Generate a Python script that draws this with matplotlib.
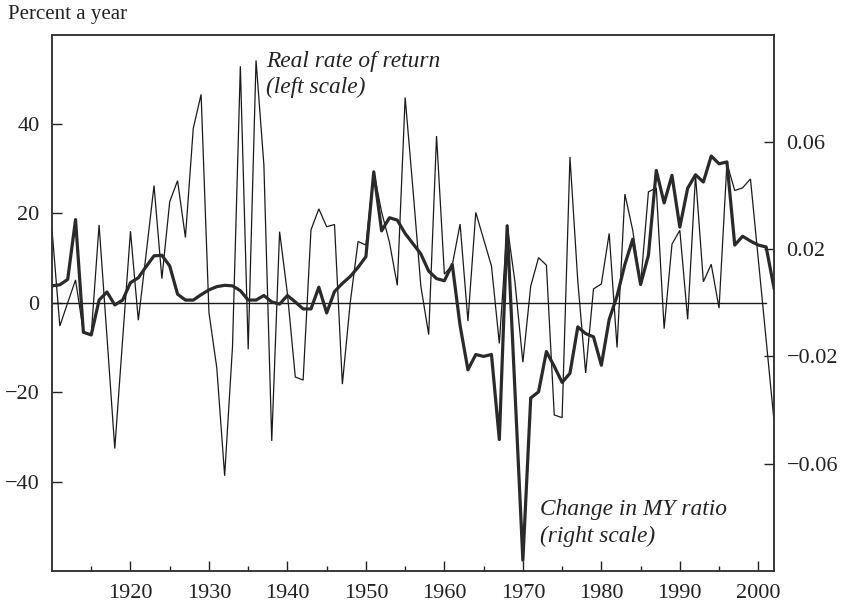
import matplotlib
matplotlib.use('Agg')
import matplotlib.pyplot as plt
from matplotlib.ticker import FixedLocator, FuncFormatter

years = list(range(1910, 2003))

# Real rate of return, percent a year (left scale)
real_return = [
    16.4, -5.2, 0.0, 5.1, -6.5, -7.1, 17.4, -7.5, -32.6, -8.2,
    16.0, -3.9, 11.0, 26.2, 5.4, 22.6, 27.3, 14.6, 39.0, 46.6,
    -2.2, -14.6, -38.7, -9.8, 52.9, -10.4, 54.2, 30.8, -30.9, 15.9,
    2.0, -16.6, -17.3, 16.3, 21.0, 17.0, 17.5, -18.2, 0.0, 13.7,
    12.9, 29.3, 20.3, 13.5, 3.9, 45.9, 25.3, 3.7, -7.1, 37.3,
    6.4, 8.4, 17.6, -4.1, 20.2, 14.2, 8.2, -9.1, 17.4, 4.5,
    -13.3, 3.7, 10.1, 8.4, -25.1, -25.7, 32.6, 4.8, -15.7, 3.1,
    4.2, 15.5, -10.0, 24.3, 16.2, 3.9, 24.8, 25.7, -5.8, 13.1,
    16.2, -3.7, 28.5, 4.7, 8.6, -1.2, 31.2, 25.1, 25.7, 27.7,
    9.7, -8.3, -26.4,
]

# Change in MY ratio (right scale)
my_change = [
    0.0063, 0.0067, 0.0087, 0.0310, -0.0110, -0.0120, 0.0010, 0.0040, -0.0008, 0.0010,
    0.0075, 0.0093, 0.0135, 0.0175, 0.0177, 0.0137, 0.0032, 0.0010, 0.0010, 0.0030,
    0.0048, 0.0060, 0.0065, 0.0063, 0.0045, 0.0010, 0.0010, 0.0027, 0.0003, -0.0005,
    0.0027, 0.0003, -0.0023, -0.0023, 0.0058, -0.0038, 0.0042, 0.0072, 0.0098, 0.0132,
    0.0172, 0.0488, 0.0268, 0.0317, 0.0308, 0.0258, 0.0220, 0.0182, 0.0118, 0.0090,
    0.0082, 0.0143, -0.0085, -0.0250, -0.0193, -0.0200, -0.0193, -0.0510, 0.0287, -0.0333,
    -0.0960, -0.0355, -0.0332, -0.0182, -0.0237, -0.0297, -0.0263, -0.0090, -0.0115, -0.0127,
    -0.0233, -0.0062, 0.0025, 0.0143, 0.0237, 0.0068, 0.0177, 0.0493, 0.0372, 0.0475,
    0.0282, 0.0427, 0.0477, 0.0450, 0.0547, 0.0518, 0.0525, 0.0215, 0.0248, 0.0230,
    0.0215, 0.0208, 0.0055,
]

left_ticks = [-40, -20, 0, 20, 40]
right_ticks = [-0.06, -0.02, 0.02, 0.06]
x_major = [1920, 1930, 1940, 1950, 1960, 1970, 1980, 1990, 2000]
x_minor = [1915, 1925, 1935, 1945, 1955, 1965, 1975, 1985, 1995]

plt.rcParams['font.family'] = ['Liberation Serif', 'DejaVu Serif']
plt.rcParams['axes.unicode_minus'] = True

W, H = 842, 602
fig = plt.figure(figsize=(W / 100, H / 100), dpi=100)
L, R, T, B = 52, 774, 34.5, 571
ax = fig.add_axes([L / W, 1 - B / H, (R - L) / W, (B - T) / H])

line_col = '#1a1a1a'
ax.plot(years, real_return, color=line_col, lw=0.9, solid_joinstyle='miter')
ax.plot([1910, 2001], [0, 0], color=line_col, lw=1.0)
ax.set_xlim(1910, 2002)
ax.set_ylim(-60, 60)

ax2 = ax.twinx()
ax2.plot(years, my_change, color='#2a2a2a', lw=2.3, solid_joinstyle='round')
ax2.set_ylim(-0.1, 0.1)

for a in (ax, ax2):
    for s in a.spines.values():
        s.set_color('#333333')
        s.set_linewidth(1.1)

tick_size = 16
ax.yaxis.set_major_locator(FixedLocator(left_ticks))
ax.xaxis.set_major_locator(FixedLocator(x_major))
ax.xaxis.set_minor_locator(FixedLocator(x_minor))
ax.tick_params(axis='y', direction='in', length=7, width=1, labelsize=tick_size, pad=9,
               colors='#222222', left=True, right=False)
ax.tick_params(axis='x', which='major', direction='in', length=7, width=1,
               labelsize=tick_size, pad=9, colors='#222222')
ax.tick_params(axis='x', which='minor', direction='in', length=3.5, width=1,
               colors='#222222')

ax2.yaxis.set_major_locator(FixedLocator(right_ticks))
ax2.yaxis.set_major_formatter(FuncFormatter(lambda v, p: f"{v:.2f}".replace('-', '\u2212')))
ax2.tick_params(axis='y', direction='in', length=7, width=1, labelsize=tick_size, pad=9,
                colors='#222222')

txt_col = '#222222'
fig.text(8 / W, 1 - 14 / H, 'Percent a year', ha='left', va='center', fontsize=15, color=txt_col)
fig.text(266 / W, 1 - 61 / H, 'Real rate of return', ha='left', va='center',
         fontsize=16.8, style='italic', color=txt_col)
fig.text(266 / W, 1 - 87 / H, '(left scale)', ha='left', va='center',
         fontsize=16.8, style='italic', color=txt_col)
fig.text(540 / W, 1 - 509 / H, 'Change in MY ratio', ha='left', va='center',
         fontsize=16.8, style='italic', color=txt_col)
fig.text(540 / W, 1 - 536 / H, '(right scale)', ha='left', va='center',
         fontsize=16.8, style='italic', color=txt_col)

fig.savefig('out.png', dpi=100)
